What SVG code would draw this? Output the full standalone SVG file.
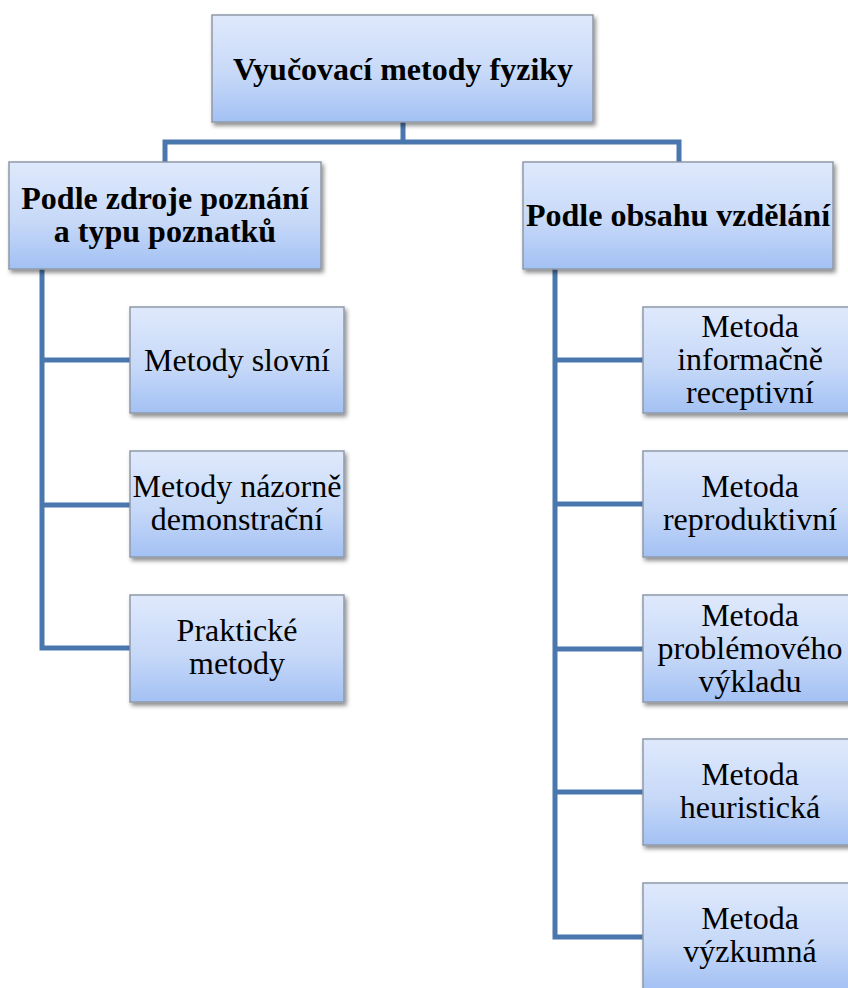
<svg xmlns="http://www.w3.org/2000/svg" width="848" height="988" viewBox="0 0 848 988">
<defs>
<linearGradient id="g" x1="0" y1="0" x2="0" y2="1">
<stop offset="0" stop-color="#dfe9fc"/>
<stop offset="0.55" stop-color="#c7d9f8"/>
<stop offset="1" stop-color="#a3c1f4"/>
</linearGradient>
<filter id="sh" x="-10%" y="-10%" width="125%" height="130%">
<feDropShadow dx="2" dy="3" stdDeviation="2" flood-color="#000" flood-opacity="0.45"/>
</filter>
<style>
.box{fill:url(#g);stroke:#8e99a8;stroke-width:1.5;filter:url(#sh)}
.t{font-family:"Liberation Serif","Times New Roman",serif;font-size:32px;fill:#000;text-anchor:middle}
.b{font-weight:bold}
.c{fill:none;stroke:#4a77ad;stroke-width:5;stroke-linejoin:miter}
</style>
</defs>
<rect width="848" height="988" fill="#fff"/>
<g id="connectors">
<path class="c" d="M403 122V142M165 162V142H679V162"/>
<path class="c" d="M42 269V648H130M42 360H130M42 505H130"/>
<path class="c" d="M555 269V937H643M555 360H643M555 504H643M555 649H643M555 792H643"/>
</g>
<g id="root">
<rect class="box" x="212" y="15" width="381" height="107"/>
<text class="t b" x="403" y="80">Vyučovací metody fyziky</text>
</g>
<g id="left">
<rect class="box" x="9" y="162" width="312" height="107"/>
<text class="t b"><tspan x="165" y="209">Podle zdroje poznání</tspan><tspan x="165" y="242">a typu poznatků</tspan></text>
</g>
<g id="right">
<rect class="box" x="523" y="162" width="310" height="107"/>
<text class="t b" x="678" y="226">Podle obsahu vzdělání</text>
</g>
<g id="l1">
<rect class="box" x="130" y="307" width="214" height="106"/>
<text class="t" x="237" y="371">Metody slovní</text>
</g>
<g id="l2">
<rect class="box" x="130" y="451" width="214" height="106"/>
<text class="t"><tspan x="237" y="497">Metody názorně</tspan><tspan x="237" y="530">demonstrační</tspan></text>
</g>
<g id="l3">
<rect class="box" x="130" y="595" width="214" height="107"/>
<text class="t"><tspan x="237" y="641">Praktické</tspan><tspan x="237" y="674">metody</tspan></text>
</g>
<g id="r1">
<rect class="box" x="643" y="307" width="214" height="106"/>
<text class="t"><tspan x="750" y="337">Metoda</tspan><tspan x="750" y="370">informačně</tspan><tspan x="750" y="403">receptivní</tspan></text>
</g>
<g id="r2">
<rect class="box" x="643" y="451" width="214" height="106"/>
<text class="t"><tspan x="750" y="497">Metoda</tspan><tspan x="750" y="530">reproduktivní</tspan></text>
</g>
<g id="r3">
<rect class="box" x="643" y="595" width="214" height="107"/>
<text class="t"><tspan x="750" y="626">Metoda</tspan><tspan x="750" y="659">problémového</tspan><tspan x="750" y="692">výkladu</tspan></text>
</g>
<g id="r4">
<rect class="box" x="643" y="739" width="214" height="106"/>
<text class="t"><tspan x="750" y="785">Metoda</tspan><tspan x="750" y="818">heuristická</tspan></text>
</g>
<g id="r5">
<rect class="box" x="643" y="883" width="214" height="107"/>
<text class="t"><tspan x="750" y="929">Metoda</tspan><tspan x="750" y="962">výzkumná</tspan></text>
</g>
</svg>
